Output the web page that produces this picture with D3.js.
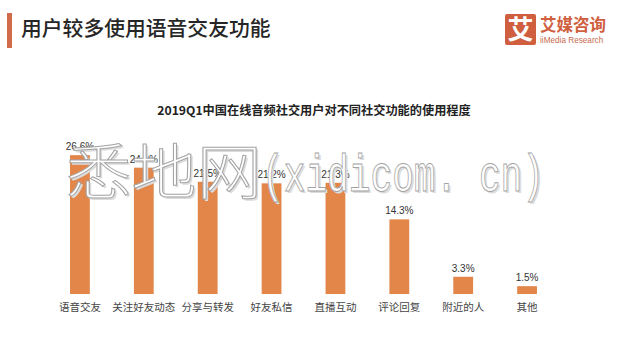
<!DOCTYPE html>
<html>
<head>
<meta charset="utf-8">
<script src="https://cdn.jsdelivr.net/npm/d3@7/dist/d3.min.js"></script>
<style>
  html, body { margin: 0; padding: 0; background: #fff; }
  svg { display: block; }
</style>
</head>
<body>
<svg id="chart" width="620" height="340"></svg>
<script>
// Chart data
const categories = ["语音交友", "关注好友动态", "分享与转发", "好友私信", "直播互动", "评论回复", "附近的人", "其他"];
const usageShare = [26.6, 24.2, 21.5, 21.2, 21.3, 14.3, 3.3, 1.5];
const valueLabels = ["26.6%", "24.2%", "21.5%", "21.2%", "21.3%", "14.3%", "3.3%", "1.5%"];

const headerText = "用户较多使用语音交友功能";
const chartTitle = "2019Q1中国在线音频社交用户对不同社交功能的使用程度";

const svg = d3.select("#chart");
const cjk = "'Noto Sans CJK SC', 'Noto Sans', sans-serif";

// Header: accent bar and slide heading
svg.append("rect").attr("x", 7).attr("y", 13).attr("width", 5).attr("height", 35).attr("fill", "#d26a4c");
svg.append("text").attr("x", 21).attr("y", 36)
  .attr("font-family", cjk).attr("font-size", 20.8).attr("font-weight", 500).attr("fill", "#262626")
  .text(headerText);

// Brand mark
const logo = svg.append("g");
logo.append("rect").attr("x", 505).attr("y", 14).attr("width", 31).attr("height", 31).attr("rx", 2).attr("fill", "#cf5f3f");
logo.append("text").attr("x", 520.5).attr("y", 39).attr("text-anchor", "middle")
  .attr("font-family", cjk).attr("font-size", 26).attr("font-weight", 700).attr("fill", "#fff").text("艾");
logo.append("text").attr("x", 540).attr("y", 31)
  .attr("font-family", cjk).attr("font-size", 16.5).attr("font-weight", 700).attr("fill", "#cf5f3f").text("艾媒咨询");
logo.append("text").attr("x", 540).attr("y", 43)
  .attr("font-family", "'Liberation Sans', sans-serif").attr("font-size", 8.2).attr("fill", "#c76a4e").text("iiMedia Research");

// Chart title
svg.append("text").attr("x", 314).attr("y", 115).attr("text-anchor", "middle")
  .attr("font-family", cjk).attr("font-size", 12.2).attr("font-weight", 700).attr("fill", "#222")
  .text(chartTitle);

// Scales
const baseline = 294;
const x = d3.scaleBand().domain(categories).range([48, 559]).paddingInner(0.69).paddingOuter(0.345);
const y = d3.scaleLinear().domain([0, 30]).range([baseline, baseline - 30 * 5.22]);

const rows = categories.map((c, i) => ({ cat: c, v: usageShare[i], label: valueLabels[i] }));

// Bars
svg.append("g").selectAll("rect").data(rows).join("rect")
  .attr("x", d => x(d.cat))
  .attr("y", d => y(d.v))
  .attr("width", x.bandwidth())
  .attr("height", d => y(0) - y(d.v))
  .attr("fill", "#e2864a");

// Value labels
svg.append("g").selectAll("text").data(rows).join("text")
  .attr("x", d => x(d.cat) + x.bandwidth() / 2)
  .attr("y", d => y(d.v) - 5)
  .attr("text-anchor", "middle")
  .attr("font-family", "'Liberation Sans', sans-serif").attr("font-size", 10).attr("fill", "#333")
  .text(d => d.label);

// Category axis (labels only)
const axis = svg.append("g").attr("transform", `translate(0,${baseline})`)
  .call(d3.axisBottom(x).tickSize(0).tickPadding(10));
axis.select(".domain").remove();
axis.selectAll("text").attr("font-family", cjk).attr("font-size", 10.5).attr("fill", "#444");

// Site watermark over the chart
const wm = svg.append("g").attr("pointer-events", "none");
function wmText(g, dx, dy, fill, stroke) {
  g.append("text").attr("x", 66 + dx).attr("y", 194 + dy)
    .attr("font-family", cjk).attr("font-size", 60).attr("font-weight", 300)
    .attr("textLength", 196).attr("lengthAdjust", "spacingAndGlyphs")
    .attr("fill", fill).attr("stroke", stroke).attr("stroke-width", 1)
    .text("悉地网");
  g.append("text").attr("x", 262 + dx).attr("y", 191 + dy)
    .attr("font-family", "'Liberation Mono', monospace").attr("font-size", 52)
    .attr("textLength", 282).attr("lengthAdjust", "spacingAndGlyphs")
    .attr("fill", fill).attr("stroke", stroke).attr("stroke-width", 1)
    .text("(xidicom. cn)");
}
wmText(wm, 2, 2, "#dcdcdc", "none");
wmText(wm, 0, 0, "#ffffff", "#a4a4a4");
</script>
</body>
</html>
